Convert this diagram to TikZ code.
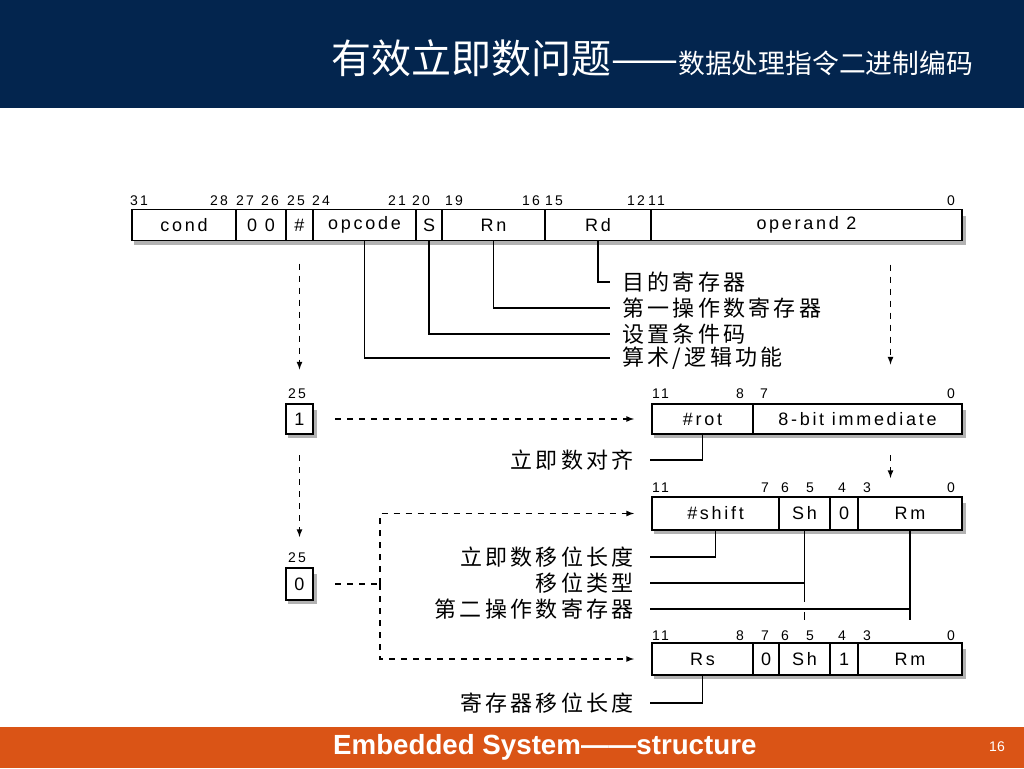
\documentclass[tikz,border=0pt]{standalone}
\usepackage{fontspec}
\setmainfont{Liberation Sans}
\newfontfamily\cjk{Noto Sans CJK SC}
\newfontfamily\cjkwide[LetterSpace=15]{Noto Sans CJK SC}
\newfontfamily\fieldfont[LetterSpace=15]{Liberation Sans}
\newfontfamily\bitfont[LetterSpace=15]{Liberation Sans}
\usetikzlibrary{arrows,positioning}
\definecolor{navy}{RGB}{3,37,78}
\definecolor{footorange}{RGB}{218,84,22}
\definecolor{shadowgray}{RGB}{178,178,178}

\tikzset{
  field/.style={draw, fill=white, line width=1.2pt, minimum height=31, inner sep=0, outer sep=0,
    font=\fieldfont\fontsize{18}{19}\selectfont},
  bitno/.style={font=\bitfont\fontsize{14}{15}\selectfont, anchor=base west, inner sep=0},
  cnlabel/.style={font=\cjkwide\fontsize{22}{24}\selectfont, inner sep=0},
  wire/.style={line width=1.2pt},
  dasharrow/.style={line width=1.6pt, dash pattern=on 6pt off 6pt, -latex},
  dashline/.style={line width=1.6pt, dash pattern=on 6pt off 6pt}
}

\begin{document}
\begin{tikzpicture}[x=1pt,y=-1pt]
    \useasboundingbox (0,0) rectangle (1024,768);
    \fill[white] (0,0) rectangle (1024,768);

    \fill[navy] (0,0) rectangle (1024,108);
    \node[anchor=base west, text=white, inner sep=0] (title) at (331,73)
      {\cjk\fontsize{40}{42}\selectfont 有效立即数问题——{\fontsize{26.8}{28}\selectfont 数据处理指令二进制编码}};

    \fill[footorange] (0,727) rectangle (1024,768);
    \node[anchor=west, text=white, inner sep=0, font=\bfseries\fontsize{27.7}{29}\selectfont] (foot) at (333,747)
      {Embedded System——structure};
    \node[text=white, inner sep=0, font=\fontsize{14}{16}\selectfont] (page) at (997,747) {16};

    \fill[shadowgray] (134,216) rectangle (966,245);
    \node[field, minimum width=104, anchor=west] (cond) at (132,225) {cond};
    \node[field, minimum width=50, right=0pt of cond] (zz) {0 0};
    \node[field, minimum width=27, right=0pt of zz] (hash) {\#};
    \node[field, minimum width=103, right=0pt of hash] (opcode) {opcode};
    \node[field, minimum width=26, right=0pt of opcode] (sbit) {S};
    \node[field, minimum width=103, right=0pt of sbit] (rn) {Rn};
    \node[field, minimum width=106, right=0pt of rn] (rd) {Rd};
    \node[field, minimum width=311, right=0pt of rd] (op2) {operand 2};

    \node[bitno] (n31) at (130,205) {31};
    \node[bitno] (n28) at (210,205) {28};
    \node[bitno] (n27) at (236,205) {27};
    \node[bitno] (n26) at (261,205) {26};
    \node[bitno] (n25) at (287,205) {25};
    \node[bitno] (n24) at (312,205) {24};
    \node[bitno] (n21) at (388,205) {21};
    \node[bitno] (n20) at (412,205) {20};
    \node[bitno] (n19) at (445,205) {19};
    \node[bitno] (n16) at (522,205) {16};
    \node[bitno] (n15) at (545,205) {15};
    \node[bitno] (n12) at (627,205) {12};
    \node[bitno] (n11) at (648,205) {11};
    \node[bitno] (n0) at (947,205) {0};

    \node[cnlabel, anchor=west] (dest) at (622,282) {目的寄存器};
    \node[cnlabel, anchor=west] (srcone) at (622,308) {第一操作数寄存器};
    \node[cnlabel, anchor=west] (setcc) at (622,334) {设置条件码};
    \node[cnlabel, anchor=west] (alu) at (622,358) {算术/逻辑功能};
    \draw[wire] (rd.south) |- ([xshift=-12pt]dest.west);
    \draw[wire] (rn.south) |- ([xshift=-12pt]srcone.west);
    \draw[wire] (sbit.south) |- ([xshift=-12pt]setcc.west);
    \draw[wire] (opcode.south) |- ([xshift=-12pt]alu.west);

    \draw[dasharrow] ([yshift=-23pt]hash.south) -- ++(0,106);
    \draw[dasharrow] ([xshift=84pt,yshift=-24pt]op2.south) -- ++(0,100);

    \node[bitno] (ua) at (288,398) {25};
    \fill[shadowgray] (288,410) rectangle (317,438);
    \node[field, minimum width=27, minimum height=30, anchor=north west] (bitone) at (286,404) {1};

    \fill[shadowgray] (654,410) rectangle (966,438);
    \node[field, minimum width=101, minimum height=30, anchor=west] (rot) at (652,419) {\#rot};
    \node[field, minimum width=209, minimum height=30, right=0pt of rot] (imm) {8-bit immediate};
    \node[bitno] (r11) at (652,398) {11};
    \node[bitno] (r8) at (736,398) {8};
    \node[bitno] (r7) at (760,398) {7};
    \node[bitno] (r0) at (947,398) {0};

    \draw[dasharrow] ([xshift=22pt]bitone.east) -- ([xshift=-18pt]rot.west);
    \node[cnlabel, anchor=east] (align) at (634,460) {立即数对齐};
    \draw[wire] (rot.south) |- ([xshift=16pt]align.east);
    \draw[dasharrow] ([xshift=33pt,yshift=-21pt]imm.south) -- ++(0,23);
    \draw[dasharrow] ([yshift=-21pt]bitone.south) -- ++(0,82);

    \fill[shadowgray] (654,503) rectangle (966,534);
    \node[field, minimum width=127, minimum height=33, anchor=west] (shft) at (652,513.5) {\#shift};
    \node[field, minimum width=51, minimum height=33, right=0pt of shft] (sh) {Sh};
    \node[field, minimum width=28, minimum height=33, right=0pt of sh] (zero) {0};
    \node[field, minimum width=104, minimum height=33, right=0pt of zero] (rm) {Rm};
    \draw[line width=2.6pt] (zero.north east) -- (zero.south east);
    \node[bitno] (s11) at (652,492) {11};
    \node[bitno] (s7) at (761,492) {7};
    \node[bitno] (s6) at (781,492) {6};
    \node[bitno] (s5) at (806,492) {5};
    \node[bitno] (s4) at (838,492) {4};
    \node[bitno] (s3) at (863,492) {3};
    \node[bitno] (s0) at (947,492) {0};

    \node[cnlabel, anchor=east] (immsh) at (634,557) {立即数移位长度};
    \node[cnlabel, anchor=east] (shtype) at (634,583) {移位类型};
    \node[cnlabel, anchor=east] (srctwo) at (634,609) {第二操作数寄存器};
    \draw[wire] (shft.south) |- ([xshift=16pt]immsh.east);
    \draw[wire] (sh.south) -- ++(0,72);
    \draw[wire] ([xshift=16pt]shtype.east) -- (shtype.east -| sh.south);
    \draw[wire] ([yshift=-82pt]sh.south) -- ++(0,8);
    \draw[wire] (rm.south) -- ++(0,90);
    \draw[wire] ([xshift=16pt]srctwo.east) -- (srctwo.east -| rm.south);

    \fill[shadowgray] (654,649) rectangle (966,679);
    \node[field, minimum width=101, minimum height=32, anchor=west] (rs) at (652,659) {Rs};
    \node[field, minimum width=26, minimum height=32, right=0pt of rs] (zerob) {0};
    \node[field, minimum width=51, minimum height=32, right=0pt of zerob] (shb) {Sh};
    \node[field, minimum width=28, minimum height=32, right=0pt of shb] (one) {1};
    \node[field, minimum width=104, minimum height=32, right=0pt of one] (rmb) {Rm};
    \draw[line width=2.6pt] (one.north east) -- (one.south east);
    \node[bitno] (t11) at (652,640) {11};
    \node[bitno] (t8) at (736,640) {8};
    \node[bitno] (t7) at (761,640) {7};
    \node[bitno] (t6) at (781,640) {6};
    \node[bitno] (t5) at (806,640) {5};
    \node[bitno] (t4) at (838,640) {4};
    \node[bitno] (t3) at (863,640) {3};
    \node[bitno] (t0) at (947,640) {0};

    \node[bitno] (ub) at (288,562) {25};
    \fill[shadowgray] (288,574) rectangle (317,604);
    \node[field, minimum width=27, minimum height=32, anchor=north west] (bitzero) at (286,568) {0};
    \draw[dashline] ([xshift=22pt]bitzero.east) -- ++(45,0) coordinate (fork);
    \draw[dasharrow] (fork) |- ([xshift=-18pt]shft.west);
    \draw[dasharrow] (fork) |- ([xshift=-18pt]rs.west);

    \node[cnlabel, anchor=east] (regsh) at (634,703) {寄存器移位长度};
    \draw[wire] (rs.south) |- ([xshift=16pt]regsh.east);
\end{tikzpicture}
\end{document}
